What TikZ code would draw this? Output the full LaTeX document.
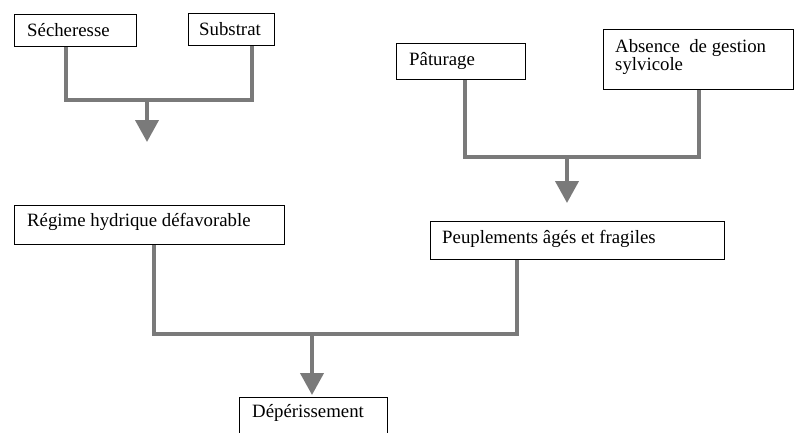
\documentclass[tikz,border=0pt]{standalone}
\usepackage{fontspec}
\setmainfont{Liberation Serif}
\usepackage{tikz}
\usetikzlibrary{arrows.meta,calc,positioning}
\definecolor{linkgray}{HTML}{7A7A7A}
\tikzset{
  Box/.style={draw=black, line width=1.2pt, fill=white, inner sep=0pt, anchor=north west},
  Txt/.style={anchor=base west, inner sep=0pt, font=\fontsize{18.8}{18.6}\selectfont},
  Link/.style={draw=linkgray, line width=4pt, line join=miter},
  Stem/.style={Link, -{Triangle[width=23pt,length=22pt]}}
}

\begin{document}
\begin{tikzpicture}[x=1pt, y=-1pt, line cap=butt]
  \clip (0,0) rectangle (800,432);

  % top left causes
  \node[Box, minimum width=122pt, minimum height=32pt] (sech) at (14,14) {};
  \node[Txt] (sechT) at ([shift={(13,22)}]sech.north west) {Sécheresse};
  \node[Box, minimum width=86pt, minimum height=32pt] (subs) at (188,13) {};
  \node[Txt] (subsT) at ([shift={(11,22)}]subs.north west) {Substrat};

  % top right causes
  \node[Box, minimum width=129pt, minimum height=36pt] (patu) at (396,43) {};
  \node[Txt] (patuT) at ([shift={(13,22)}]patu.north west) {Pâturage};
  \node[Box, minimum width=190pt, minimum height=60pt] (absg) at (603,29) {};
  \node[Txt] (absgT) at ([shift={(12,23)}]absg.north west) {Absence\ \ de gestion};
  \node[Txt] (absgU) at ([shift={(12,41)}]absg.north west) {sylvicole};

  % middle level
  \node[Box, minimum width=270pt, minimum height=39pt] (regi) at (14,205) {};
  \node[Txt] (regiT) at ([shift={(13,21)}]regi.north west) {Régime hydrique défavorable};
  \node[Box, minimum width=294pt, minimum height=38pt] (peup) at (430,221) {};
  \node[Txt] (peupT) at ([shift={(12,22)}]peup.north west) {Peuplements âgés et fragiles};

  % result
  \node[Box, minimum width=148pt, minimum height=60pt] (depe) at (239,397) {};
  \node[Txt] (depeT) at ([shift={(13,20)}]depe.north west) {Dépérissement};

  % junctions and arrow ends
  \coordinate (j1) at (147,100);
  \coordinate (a1) at (147,142);
  \coordinate (j2) at (567,157);
  \coordinate (a2) at (567,203);
  \coordinate (j3) at (312,334);
  \coordinate (a3) at (312,395);

  \draw[Link] ([xshift=52pt]sech.south west) |- (j1) -| ([xshift=64pt]subs.south west);
  \draw[Stem] (j1) -- (a1);

  \draw[Link] ([xshift=69pt]patu.south west) |- (j2) -| (absg.south);
  \draw[Stem] (j2) -- (a2);

  \draw[Link] ([xshift=140pt]regi.south west) |- (j3) -| ([xshift=87pt]peup.south west);
  \draw[Stem] (j3) -- (a3);
\end{tikzpicture}
\end{document}
